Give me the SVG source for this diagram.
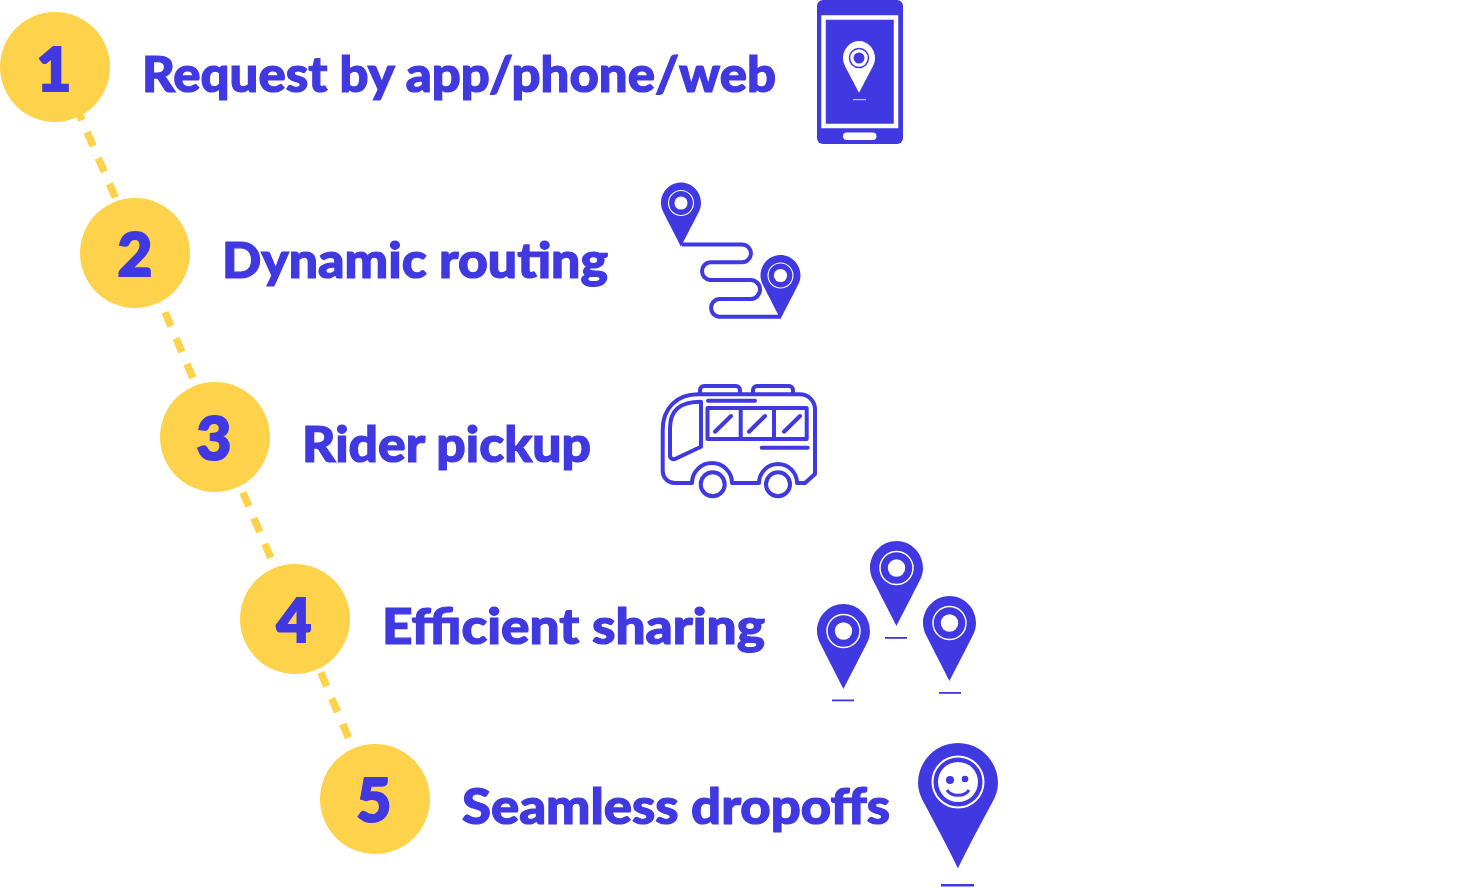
<svg xmlns="http://www.w3.org/2000/svg" width="1466" height="888" viewBox="0 0 1466 888">
<style>
.disc{fill:#FFD24C}
.num{font:900 60px Lato,"Liberation Sans",sans-serif;fill:#4038E0;stroke:#4038E0;stroke-width:2.200;text-anchor:middle}
.lab{font:900 50px Lato,"Liberation Sans",sans-serif;fill:#4038E0;stroke:#4038E0;stroke-width:1.200}
.dash{stroke:#FFD24C;stroke-width:7.500;stroke-dasharray:15 13;fill:none}
.bl{fill:#4038E0}
.wh{fill:#fff}
.ol{fill:none;stroke:#4038E0;stroke-width:4;stroke-linecap:round;stroke-linejoin:round}
</style>
<defs>
<g id="pin">
<path class="bl" d="M0,58C-3,52-19,21-23,13C-25.500,8.500-26.500,4-26.500,0C-26.500,-15-14.500,-27,0,-27C14.500,-27,26.500,-15,26.500,0C26.500,4,25.500,8.500,23,13C19,21,3,52,0,58Z"/>
<circle r="16.500" fill="none" stroke="#fff" stroke-width="1.500"/>
<circle r="8.700" fill="#fff"/>
</g>
</defs>
<g id="connectors">
<path class="dash" d="M76,106.600L115.600,198"/>
<path class="dash" d="M165.100,312.400L192.900,378"/>
<path class="dash" d="M242.800,492.400L270.900,558"/>
<path class="dash" d="M320.800,672.400L348.600,738"/>
</g>
<g id="step1">
<circle class="disc" cx="55" cy="67" r="55"/>
<text class="num" x="54" y="91">1</text>
<text class="lab" x="142" y="92" textLength="634" lengthAdjust="spacingAndGlyphs">Request by app/phone/web</text>
<g id="icon-phone">
<rect class="bl" x="817" y="0" width="86" height="144" rx="6"/>
<rect x="823.500" y="17.500" width="72.500" height="108.500" fill="none" stroke="#fff" stroke-width="4.500"/>
<rect class="wh" x="843" y="132.500" width="33.500" height="7.500" rx="3.700"/>
<path class="wh" d="M859,92.700C857,89,847,70,845,66C843.500,63,843,60.500,843,58C843,49,850,41,859,41C868,41,875,49,875,58C875,60.500,874.500,63,873,66C871,70,861,89,859,92.700Z"/>
<circle cx="859" cy="58" r="9.500" fill="none" stroke="#4038E0" stroke-width="1.500"/>
<circle class="bl" cx="859" cy="58" r="5.500"/>
<rect x="853" y="99" width="13" height="1.200" fill="#c5c2f5"/>
</g>
</g>
<g id="step2">
<circle class="disc" cx="135" cy="253" r="55"/>
<text class="num" x="135" y="276">2</text>
<text class="lab" x="222" y="278" textLength="386" lengthAdjust="spacingAndGlyphs">Dynamic routing</text>
<g id="icon-route">
<path d="M682,244.500H742A8.900,8.900 0 0 1 742,262.300H710A8.900,8.900 0 0 0 710,280H750.500A9.500,9.500 0 0 1 750.500,299H719A8.900,8.900 0 0 0 719,316.700H780" fill="none" stroke="#4038E0" stroke-width="4"/>
<use href="#pin" transform="translate(681,203) scale(.755)"/>
<use href="#pin" transform="translate(780.500,275.500) scale(.755)"/>
</g>
</g>
<g id="step3">
<circle class="disc" cx="215" cy="437" r="55"/>
<text class="num" x="214" y="460">3</text>
<text class="lab" x="302" y="462" textLength="289" lengthAdjust="spacingAndGlyphs">Rider pickup</text>
<g id="icon-bus">
<path class="ol" d="M692,483H675A12,12 0 0 1 662.700,471V430C662.700,408 677,394.300 698,394.300H800A15,15 0 0 1 815,409V474L805,483H797A19,19 0 0 0 759,483H732A20,20 0 0 0 692,483Z"/>
<path class="ol" d="M700,394V390A4,4 0 0 1 704,386H736A4,4 0 0 1 740,390V394M753,394V390A4,4 0 0 1 757,386H789A4,4 0 0 1 793,390V394"/>
<path class="ol" d="M708,400.700H755M761.700,447.700H807.700M715,431.700L731,416M749,431.700L765,416M784,431.700L800,416"/>
<rect class="ol" x="707.500" y="408" width="99.200" height="31"/>
<path class="ol" d="M740.700,408V439M774,408V439"/>
<path class="ol" d="M701,401.700C680,401.700 670,410 670,428V455C670,459 673,460 676,458.500L701,446.700Z"/>
<circle cx="712.700" cy="484.300" r="12" fill="#fff" stroke="#4038E0" stroke-width="4"/>
<circle cx="778" cy="484.300" r="12" fill="#fff" stroke="#4038E0" stroke-width="4"/>
</g>
</g>
<g id="step4">
<circle class="disc" cx="295" cy="619" r="55"/>
<text class="num" x="294" y="642">4</text>
<text class="lab" x="382" y="644" textLength="383" lengthAdjust="spacingAndGlyphs">Efficient sharing</text>
<g id="icon-pins">
<use href="#pin" transform="translate(896.500,568)"/>
<rect class="bl" x="885" y="637" width="22" height="1.800"/>
<use href="#pin" transform="translate(843.500,631)"/>
<rect class="bl" x="832" y="699.500" width="22" height="1.800"/>
<use href="#pin" transform="translate(949.500,623)"/>
<rect class="bl" x="939" y="692" width="22" height="1.800"/>
</g>
</g>
<g id="step5">
<circle class="disc" cx="375" cy="799" r="55"/>
<text class="num" x="374" y="822">5</text>
<text class="lab" x="462" y="824" textLength="428" lengthAdjust="spacingAndGlyphs">Seamless dropoffs</text>
<g id="icon-smile">
<path class="bl" d="M958,868.500C954,859,929,812,924,803C920,796,918,789,918,783C918,761,936,743,958,743C980,743,998,761,998,783C998,789,996,796,992,803C987,812,962,859,958,868.500Z"/>
<circle cx="958" cy="782" r="25.500" fill="none" stroke="#fff" stroke-width="2"/>
<circle class="wh" cx="958" cy="782" r="20"/>
<circle class="bl" cx="950" cy="780" r="4"/>
<circle class="bl" cx="965" cy="779" r="3.300"/>
<path d="M947,790C951,797 965,797 969,790" fill="none" stroke="#4038E0" stroke-width="3"/>
<rect class="bl" x="941" y="884" width="33" height="2.500"/>
</g>
</g>
</svg>
